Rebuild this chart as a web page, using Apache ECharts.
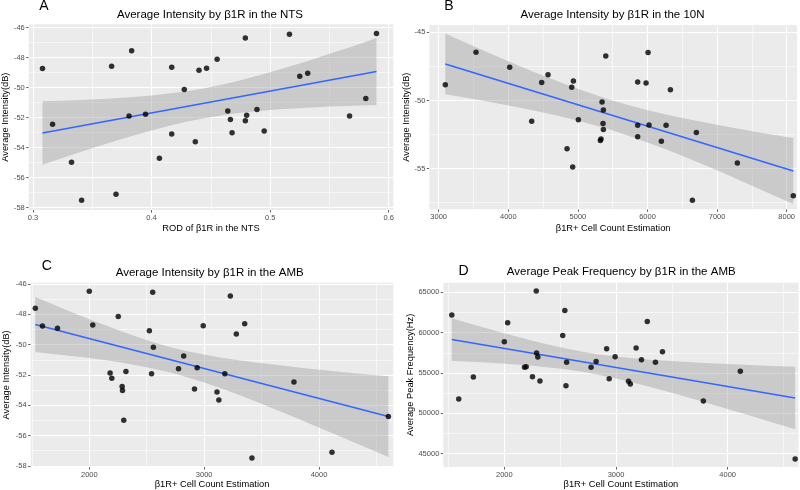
<!DOCTYPE html>
<html><head><meta charset="utf-8">
<script src="https://cdn.jsdelivr.net/npm/echarts@6/dist/echarts.min.js"></script>
<style>html,body{margin:0;padding:0;background:#fff}#c{width:800px;height:490px}</style>
</head><body><div id="c"></div>
<script>
// ---------- Panel A : NTS ----------
const ntsROD = [0.308,0.3165,0.3325,0.341,0.3663,0.370,0.381,0.3832,0.3949,0.4066,0.417,0.417,0.4276,0.4369,0.440,0.4464,0.4553,0.4643,0.4665,0.4679,0.4791,0.4791,0.4802,0.4889,0.495,0.5163,0.525,0.5317,0.567,0.5807,0.5897];
const ntsIntensity = [-48.72,-52.43,-54.97,-57.50,-48.57,-57.10,-51.88,-47.54,-51.77,-54.71,-48.63,-53.09,-50.12,-53.61,-48.83,-48.70,-48.11,-51.55,-52.12,-53.00,-46.68,-52.21,-51.84,-51.46,-52.89,-46.44,-49.23,-49.03,-51.88,-50.72,-46.39];
const ntsFitX = [0.308, 0.5897];
const ntsFitY = [-53.02, -48.92];
const ntsBandX = [0.308,0.325,0.34,0.355,0.37,0.385,0.40,0.415,0.43,0.445,0.46,0.475,0.49,0.505,0.52,0.535,0.55,0.57,0.5897];
const ntsBandHi = [-50.91,-50.87,-50.82,-50.77,-50.70,-50.62,-50.52,-50.39,-50.23,-50.03,-49.79,-49.51,-49.19,-48.86,-48.50,-48.13,-47.74,-47.23,-46.69];
const ntsBandLo = [-55.13,-54.68,-54.29,-53.90,-53.54,-53.18,-52.85,-52.54,-52.26,-52.03,-51.83,-51.67,-51.55,-51.46,-51.38,-51.32,-51.26,-51.20,-51.15];

// ---------- Panel B : 10N ----------
const tenNCount = [3095,3536,4020,4336,4480,4571,4844,4911,4925,4935,5007,5323,5332,5347,5366,5361,5366,5400,5859,5859,5859,5979,6008,6022,6199,6267,6329,6645,6702,7291,8095];
const tenNIntensity = [-48.84,-46.47,-47.57,-51.53,-48.69,-48.11,-53.54,-49.04,-54.88,-48.57,-51.41,-52.93,-52.83,-50.11,-50.70,-51.70,-52.14,-46.74,-48.64,-51.82,-52.66,-48.72,-46.49,-51.80,-53.00,-51.82,-49.21,-57.33,-52.36,-54.59,-57.00];
const tenNFitX = [3095, 8095];
const tenNFitY = [-47.32, -55.18];
const tenNBandX = [3095,3350,3600,3850,4100,4350,4600,4850,5100,5460,5800,6050,6300,6550,6800,7050,7300,7550,7800,8095];
const tenNBandHi = [-45.09,-45.67,-46.24,-46.80,-47.34,-47.87,-48.38,-48.87,-49.33,-49.94,-50.44,-50.77,-51.06,-51.34,-51.59,-51.84,-52.07,-52.29,-52.51,-52.76];
const tenNBandLo = [-49.55,-49.76,-49.99,-50.22,-50.47,-50.72,-50.99,-51.29,-51.61,-52.14,-52.71,-53.17,-53.66,-54.17,-54.70,-55.24,-55.80,-56.36,-56.93,-57.60];

// ---------- Panels C & D : AMB ----------
const ambCount = [1530,1592,1723,2000,2030,2181,2196,2252,2286,2289,2300,2319,2523,2542,2552,2558,2777,2822,2916,2939,2992,3112,3128,3180,3228,3280,3353,3416,3782,4113,4604];
const ambIntensity = [-47.60,-48.77,-48.92,-46.48,-48.70,-51.87,-52.22,-48.15,-52.77,-53.03,-54.99,-51.78,-49.08,-51.92,-46.55,-50.18,-51.60,-50.75,-52.93,-51.52,-48.75,-53.13,-53.65,-51.92,-46.79,-49.30,-48.62,-57.49,-52.46,-57.10,-54.75];
const ambPeak = [62200,51790,54506,58868,61214,55700,55782,54547,65165,57469,56975,54012,59650,62737,53436,56317,55700,56440,58004,54300,57016,53971,53642,58086,56646,61379,56317,57634,51543,55206,44350];
const ambFitX = [1530, 4604];
const ambIntFitY = [-48.67, -54.75];
const ambPeakFitY = [59150, 51900];
const ambBandX = [1530,1650,1800,1950,2100,2250,2400,2550,2726,2850,3000,3150,3300,3450,3600,3750,3900,4050,4200,4400,4604];
const ambIntBandHi = [-46.86,-47.24,-47.71,-48.17,-48.61,-49.04,-49.45,-49.83,-50.20,-50.43,-50.66,-50.86,-51.03,-51.18,-51.32,-51.45,-51.57,-51.69,-51.80,-51.95,-52.09];
const ambIntBandLo = [-50.49,-50.58,-50.71,-50.84,-50.99,-51.15,-51.34,-51.57,-51.88,-52.15,-52.50,-52.89,-53.31,-53.75,-54.21,-54.67,-55.15,-55.63,-56.11,-56.76,-57.41];
const ambPeakBandHi = [61795,61300,60709,60120,59553,59010,58500,58030,57579,57300,57042,56830,56653,56505,56381,56270,56168,56075,55986,55875,55768];
const ambPeakBandLo = [56505,56440,56317,56200,56059,55895,55696,55450,55079,54750,54324,53835,53297,52735,52155,51558,50952,50339,49720,48883,48032];

// ---------- tick values ----------
const rodTicks = [0.3,0.4,0.5,0.6];
const rodMinor = [0.35,0.45,0.55];
const intTicks = [-58,-56,-54,-52,-50,-48,-46];
const intMinor = [-57,-55,-53,-51,-49,-47];
const tenNXTicks = [3000,4000,5000,6000,7000,8000];
const tenNXMinor = [3500,4500,5500,6500,7500];
const tenNYTicks = [-55,-50,-45];
const tenNYMinor = [-57.5,-52.5,-47.5];
const ambXTicks = [2000,3000,4000];
const ambXMinor = [1500,2500,3500,4500];
const peakTicks = [45000,50000,55000,60000,65000];
const peakMinor = [47500,52500,57500,62500];

// ---------- texts ----------
const titles = ['Average Intensity by β1R in the NTS','Average Intensity by β1R in the 10N','Average Intensity by β1R in the AMB','Average Peak Frequency by β1R in the AMB'];
const letters = ['A','B','C','D'];
const xNames = ['ROD of β1R in the NTS','β1R+ Cell Count Estimation','β1R+ Cell Count Estimation','β1R+ Cell Count Estimation'];
const yNames = ['Average Intensity(dB)','Average Intensity(dB)','Average Intensity(dB)','Average Peak Frequency(Hz)'];

const FONT = '"Liberation Sans", Arial, Helvetica, sans-serif';

const panels = [
  {grid:{left:26.7,top:24.3,width:366.6,height:185.7}, xr:[0.2964,0.6039], yr:[-58.153,-45.773],
   xt:rodTicks, xm:rodMinor, yt:intTicks, ym:intMinor, xs:ntsROD, ys:ntsIntensity,
   fx:ntsFitX, fy:ntsFitY, bx:ntsBandX, bh:ntsBandHi, bl:ntsBandLo, xGap:14.3, yGap:15.5,
   title:[210,15], letter:[44,6.5]},
  {grid:{left:429.3,top:25,width:367.7,height:184.3}, xr:[2865,8148], yr:[-57.986,-44.464],
   xt:tenNXTicks, xm:tenNXMinor, yt:tenNYTicks, ym:tenNYMinor, xs:tenNCount, ys:tenNIntensity,
   fx:tenNFitX, fy:tenNFitY, bx:tenNBandX, bh:tenNBandHi, bl:tenNBandLo, xGap:15, yGap:16,
   title:[612.5,15], letter:[449,6.5]},
  {grid:{left:30.7,top:282.7,width:362.6,height:184.6}, xr:[1489.8,4646.9], yr:[-58.083,-45.914],
   xt:ambXTicks, xm:ambXMinor, yt:intTicks, ym:intMinor, xs:ambCount, ys:ambIntensity,
   fx:ambFitX, fy:ambIntFitY, bx:ambBandX, bh:ambIntBandHi, bl:ambIntBandLo, xGap:12.4, yGap:20,
   title:[209.7,272.5], letter:[46.7,266.3]},
  {grid:{left:443.3,top:282.7,width:355.2,height:184.6}, xr:[1453.9,4633.8], yr:[43355,66187],
   xt:ambXTicks, xm:ambXMinor, yt:peakTicks, ym:peakMinor, xs:ambCount, ys:ambPeak,
   fx:ambFitX, fy:ambPeakFitY, bx:ambBandX, bh:ambPeakBandHi, bl:ambPeakBandLo, xGap:13, yGap:26.5,
   title:[621.2,272], letter:[463.5,271.3]}
];

function gridMarks(p){
  const d = [];
  p.xm.forEach(v => d.push({xAxis:v, lineStyle:{width:0.55}}));
  p.ym.forEach(v => d.push({yAxis:v, lineStyle:{width:0.55}}));
  p.xt.forEach(v => d.push({xAxis:v, lineStyle:{width:1.1}}));
  p.yt.forEach(v => d.push({yAxis:v, lineStyle:{width:1.1}}));
  return {silent:true, z:1, symbol:['none','none'], label:{show:false}, animation:false,
          lineStyle:{color:'#ffffff', type:'solid', opacity:1}, emphasis:{disabled:true}, data:d};
}

const grid=[], xAxis=[], yAxis=[], series=[], graphic=[];
panels.forEach((p,i)=>{
  grid.push(Object.assign({show:true, backgroundColor:'#EBEBEB', borderWidth:0, containLabel:false}, p.grid));
  const axBase = (ticks)=>({
    axisLine:{show:false},
    splitLine:{show:false},
    axisTick:{show:true, customValues:ticks, length:2.5, lineStyle:{color:'#333333', width:0.8}},
    axisLabel:{customValues:ticks, formatter:v=>String(v), fontSize:7.5, color:'#4D4D4D', fontFamily:FONT, margin:4}
  });
  xAxis.push(Object.assign(axBase(p.xt), {type:'value', gridIndex:i, min:p.xr[0], max:p.xr[1],
    name:xNames[i], nameLocation:'middle', nameGap:p.xGap,
    nameTextStyle:{fontSize:9.3, color:'#000', fontFamily:FONT}}));
  yAxis.push(Object.assign(axBase(p.yt), {type:'value', gridIndex:i, min:p.yr[0], max:p.yr[1],
    name:yNames[i], nameLocation:'middle', nameGap:p.yGap,
    nameTextStyle:{fontSize:9.3, color:'#000', fontFamily:FONT}}));
  // confidence band (polygon through the axis scales) + grid lines as markLines
  series.push({type:'custom', xAxisIndex:i, yAxisIndex:i, z:2, silent:true,
    data:p.bx.map((x,j)=>[x,p.bl[j],p.bh[j]]),
    encode:{x:0, y:[1,2]},
    renderItem:(params, api)=>{
      if (params.dataIndex !== 0) return null;
      const pts = [];
      for (let j=0;j<p.bx.length;j++) pts.push(api.coord([p.bx[j], p.bh[j]]));
      for (let j=p.bx.length-1;j>=0;j--) pts.push(api.coord([p.bx[j], p.bl[j]]));
      return {type:'polygon', shape:{points:pts}, style:{fill:'rgba(153,153,153,0.4)', stroke:null}};
    },
    markLine:gridMarks(p)});
  series.push({type:'line', xAxisIndex:i, yAxisIndex:i, data:p.fx.map((x,j)=>[x,p.fy[j]]),
    symbol:'none', lineStyle:{color:'#3366FF', width:1.5}, z:3, silent:true});
  series.push({type:'scatter', xAxisIndex:i, yAxisIndex:i, data:p.xs.map((x,j)=>[x,p.ys[j]]),
    symbolSize:5.5, itemStyle:{color:'#000000'}, z:4, silent:true});
  graphic.push({type:'text', x:p.title[0], y:p.title[1], silent:true,
    style:{text:titles[i], font:'11.5px '+FONT, fill:'#000', align:'center', verticalAlign:'middle'}});
  graphic.push({type:'text', x:p.letter[0], y:p.letter[1], silent:true,
    style:{text:letters[i], font:'14px '+FONT, fill:'#000', align:'center', verticalAlign:'middle'}});
});

const chart = echarts.init(document.getElementById('c'), null, {renderer:'canvas'});
chart.setOption({animation:false, backgroundColor:'#ffffff', grid, xAxis, yAxis, series, graphic});
</script></body></html>
